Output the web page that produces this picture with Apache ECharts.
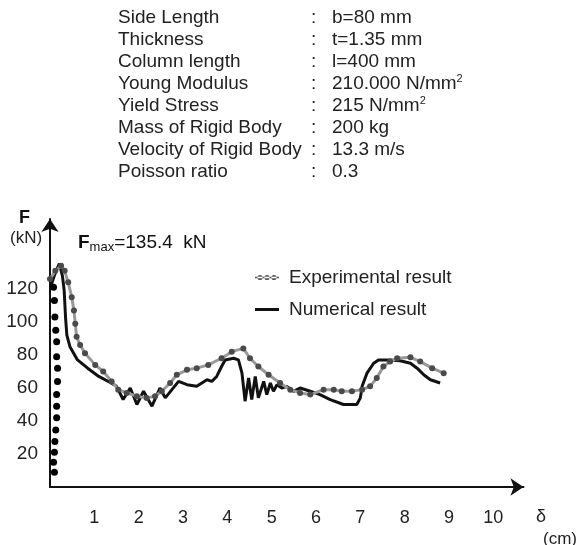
<!DOCTYPE html>
<html>
<head>
<meta charset="utf-8">
<script src="https://cdn.jsdelivr.net/npm/echarts@6/dist/echarts.min.js"></script>
<style>
html,body{margin:0;padding:0;background:#fff;}
#chart{width:580px;height:545px;}
</style>
</head>
<body>
<div id="chart"></div>
<script>
// ---- parameter table ----
const paramLabels = ['Side Length','Thickness','Column length','Young Modulus','Yield Stress','Mass of Rigid Body','Velocity of Rigid Body','Poisson ratio'];
const paramValues = ['{a|b=80 mm}','{a|t=1.35 mm}','{a|l=400 mm}','{a|210.000 N/mm}{s|2}','{a|215 N/mm}{s|2}','{a|200 kg}','{a|13.3 m/s}','{a|0.3}'];

// ---- axis ticks ----
const xTicks = [1,2,3,4,5,6,7,8,9,10];
const yTicks = [20,40,60,80,100,120];

// ---- Numerical result (black line) ----
const numX = [0.01,0.11,0.21,0.28,0.32,0.35,0.38,0.45,0.62,0.85,1.1,1.38,1.5,1.65,1.81,1.96,2.11,2.30,2.48,2.60,2.75,2.90,3.09,3.31,3.54,3.65,3.76,3.87,3.95,4.14,4.25,4.33,4.40,4.48,4.55,4.63,4.70,4.82,4.89,4.97,5.04,5.12,5.23,5.34,5.49,5.64,5.87,6.09,6.32,6.62,6.92,7.0,7.04,7.15,7.30,7.41,7.67,7.9,8.13,8.28,8.43,8.58,8.8];
const numY = [121,129,135.4,128,119,103,92,85,77,72,67,63,61,53,60,50,58,49,60,54,59,64,62,61,65,64,67,73,77,78,77,69,52,66,53,67,54,64,56,63,58,62,60,61,58,60,58,56,53,50,50,54,61,69,75,77,77,76.5,75,72,68,65,63];

// ---- Experimental result (grey line with dots) ----
const expX = [0.0,0.12,0.25,0.33,0.41,0.49,0.54,0.57,0.6,0.68,0.79,1.02,1.2,1.39,1.54,1.73,1.96,2.18,2.37,2.52,2.71,2.86,3.09,3.31,3.57,3.87,4.1,4.36,4.51,4.70,4.93,5.19,5.42,5.64,5.87,6.17,6.4,6.58,6.81,7.04,7.22,7.37,7.52,7.67,7.83,8.13,8.35,8.62,8.88];
const expY = [126,131,134,131,124,115,107,99,91,86,81,74,70,64,59,57,55,54,55,58,63,68,71,72,74,78,82,84,78,73,68,63,59,57,56,59,59,58,58,59,61,66,73,76,78,78.6,76,72,69];

// ---- Experimental loading branch (black dots) ----
const loadX = [0.1,0.08,0.1,0.11,0.13,0.15,0.15,0.15,0.17,0.17,0.15,0.15,0.13,0.11,0.1,0.08];
const loadY = [9,15,21,27.5,34.5,42,49,56,64,72,79,88,95,103,113,121];

const zip = (xs, ys) => xs.map((x, i) => [x, ys[i]]);
const FONT = 'Liberation Sans, Arial, Helvetica, sans-serif';

const graphics = [];
paramLabels.forEach((t, i) => {
  const y = 18 + 22 * i;
  graphics.push({type:'text', x:118, y:y, style:{text:t, font:'19px ' + FONT, fill:'#222', verticalAlign:'middle'}});
  graphics.push({type:'text', x:311, y:y, style:{text:':', font:'19px ' + FONT, fill:'#222', verticalAlign:'middle'}});
  graphics.push({type:'text', x:332, y:y, style:{text:paramValues[i], fill:'#222', verticalAlign:'middle',
    rich:{a:{fontSize:19, fontFamily:FONT, lineHeight:22, verticalAlign:'middle'},
          s:{fontSize:11, fontFamily:FONT, lineHeight:11, verticalAlign:'top'}}}});
});
graphics.push({type:'text', x:19, y:218, style:{text:'F', font:'bold 18px ' + FONT, fill:'#111', verticalAlign:'middle'}});
graphics.push({type:'text', x:10, y:238, style:{text:'(kN)', font:'17px ' + FONT, fill:'#222', verticalAlign:'middle'}});
graphics.push({type:'text', x:536, y:517, style:{text:'δ', font:'18px ' + FONT, fill:'#222', verticalAlign:'middle'}});
graphics.push({type:'text', x:543, y:539, style:{text:'(cm)', font:'17px ' + FONT, fill:'#222', verticalAlign:'middle'}});
graphics.push({type:'text', x:78, y:243, style:{text:'{b|F}{s|max}{a|=135.4  kN}', fill:'#111', verticalAlign:'middle',
  rich:{b:{fontSize:19, fontWeight:'bold', fontFamily:FONT, verticalAlign:'middle', lineHeight:22},
        s:{fontSize:13, fontFamily:FONT, verticalAlign:'bottom', lineHeight:15},
        a:{fontSize:19, fontFamily:FONT, verticalAlign:'middle', lineHeight:22}}}});

const chart = echarts.init(document.getElementById('chart'), null, {renderer:'canvas'});
chart.setOption({
  animation:false,
  backgroundColor:'#fff',
  grid:{left:50, right:56.5, top:219, bottom:58, containLabel:false},
  xAxis:{type:'value', min:0, max:10.68, interval:1,
    axisLine:{show:true, symbol:['none','arrow'], symbolSize:[13,13], lineStyle:{color:'#111', width:2}},
    axisTick:{show:false}, splitLine:{show:false},
    axisLabel:{margin:22, fontSize:18, fontFamily:FONT, color:'#222',
      formatter:v => xTicks.indexOf(Math.round(v)) >= 0 && Math.abs(v - Math.round(v)) < 1e-6 ? String(Math.round(v)) : ''}},
  yAxis:{type:'value', min:0, max:162.4, interval:20,
    axisLine:{show:true, symbol:['none','arrow'], symbolSize:[13,13], lineStyle:{color:'#111', width:2}},
    axisTick:{show:false}, splitLine:{show:false},
    axisLabel:{margin:12, fontSize:19, fontFamily:FONT, color:'#222',
      formatter:v => yTicks.indexOf(v) >= 0 ? String(v) : ''}},
  legend:{orient:'vertical', left:250, top:263, itemWidth:24, itemHeight:12, itemGap:13,
    data:[
      {name:'Experimental result', icon:'path://M0,5.2h24v1.6h-24z M2.4,6a2.6,2.6 0 1,0 5.2,0a2.6,2.6 0 1,0 -5.2,0z M9.4,6a2.6,2.6 0 1,0 5.2,0a2.6,2.6 0 1,0 -5.2,0z M16.4,6a2.6,2.6 0 1,0 5.2,0a2.6,2.6 0 1,0 -5.2,0z', itemStyle:{color:'#555'}},
      {name:'Numerical result', icon:'path://M0,0h24v3h-24z', itemStyle:{color:'#111'}}
    ],
    textStyle:{fontSize:19, fontFamily:FONT, color:'#222', padding:[0,0,0,5]}},
  graphic:graphics,
  series:[
    {name:'Numerical result', type:'line', data:zip(numX, numY), showSymbol:false, symbol:'none',
      lineStyle:{color:'#111', width:3}, itemStyle:{color:'#111'}, z:2},
    {name:'Experimental result', type:'line', data:zip(expX, expY), symbol:'circle', symbolSize:6, showSymbol:true,
      lineStyle:{color:'#999', width:3}, itemStyle:{color:'#4a4a4a', borderWidth:0}, z:3},
    {name:'loading', type:'scatter', data:zip(loadX, loadY), symbol:'circle', symbolSize:7,
      itemStyle:{color:'#000', opacity:1}, z:4}
  ]
});
</script>
</body>
</html>
